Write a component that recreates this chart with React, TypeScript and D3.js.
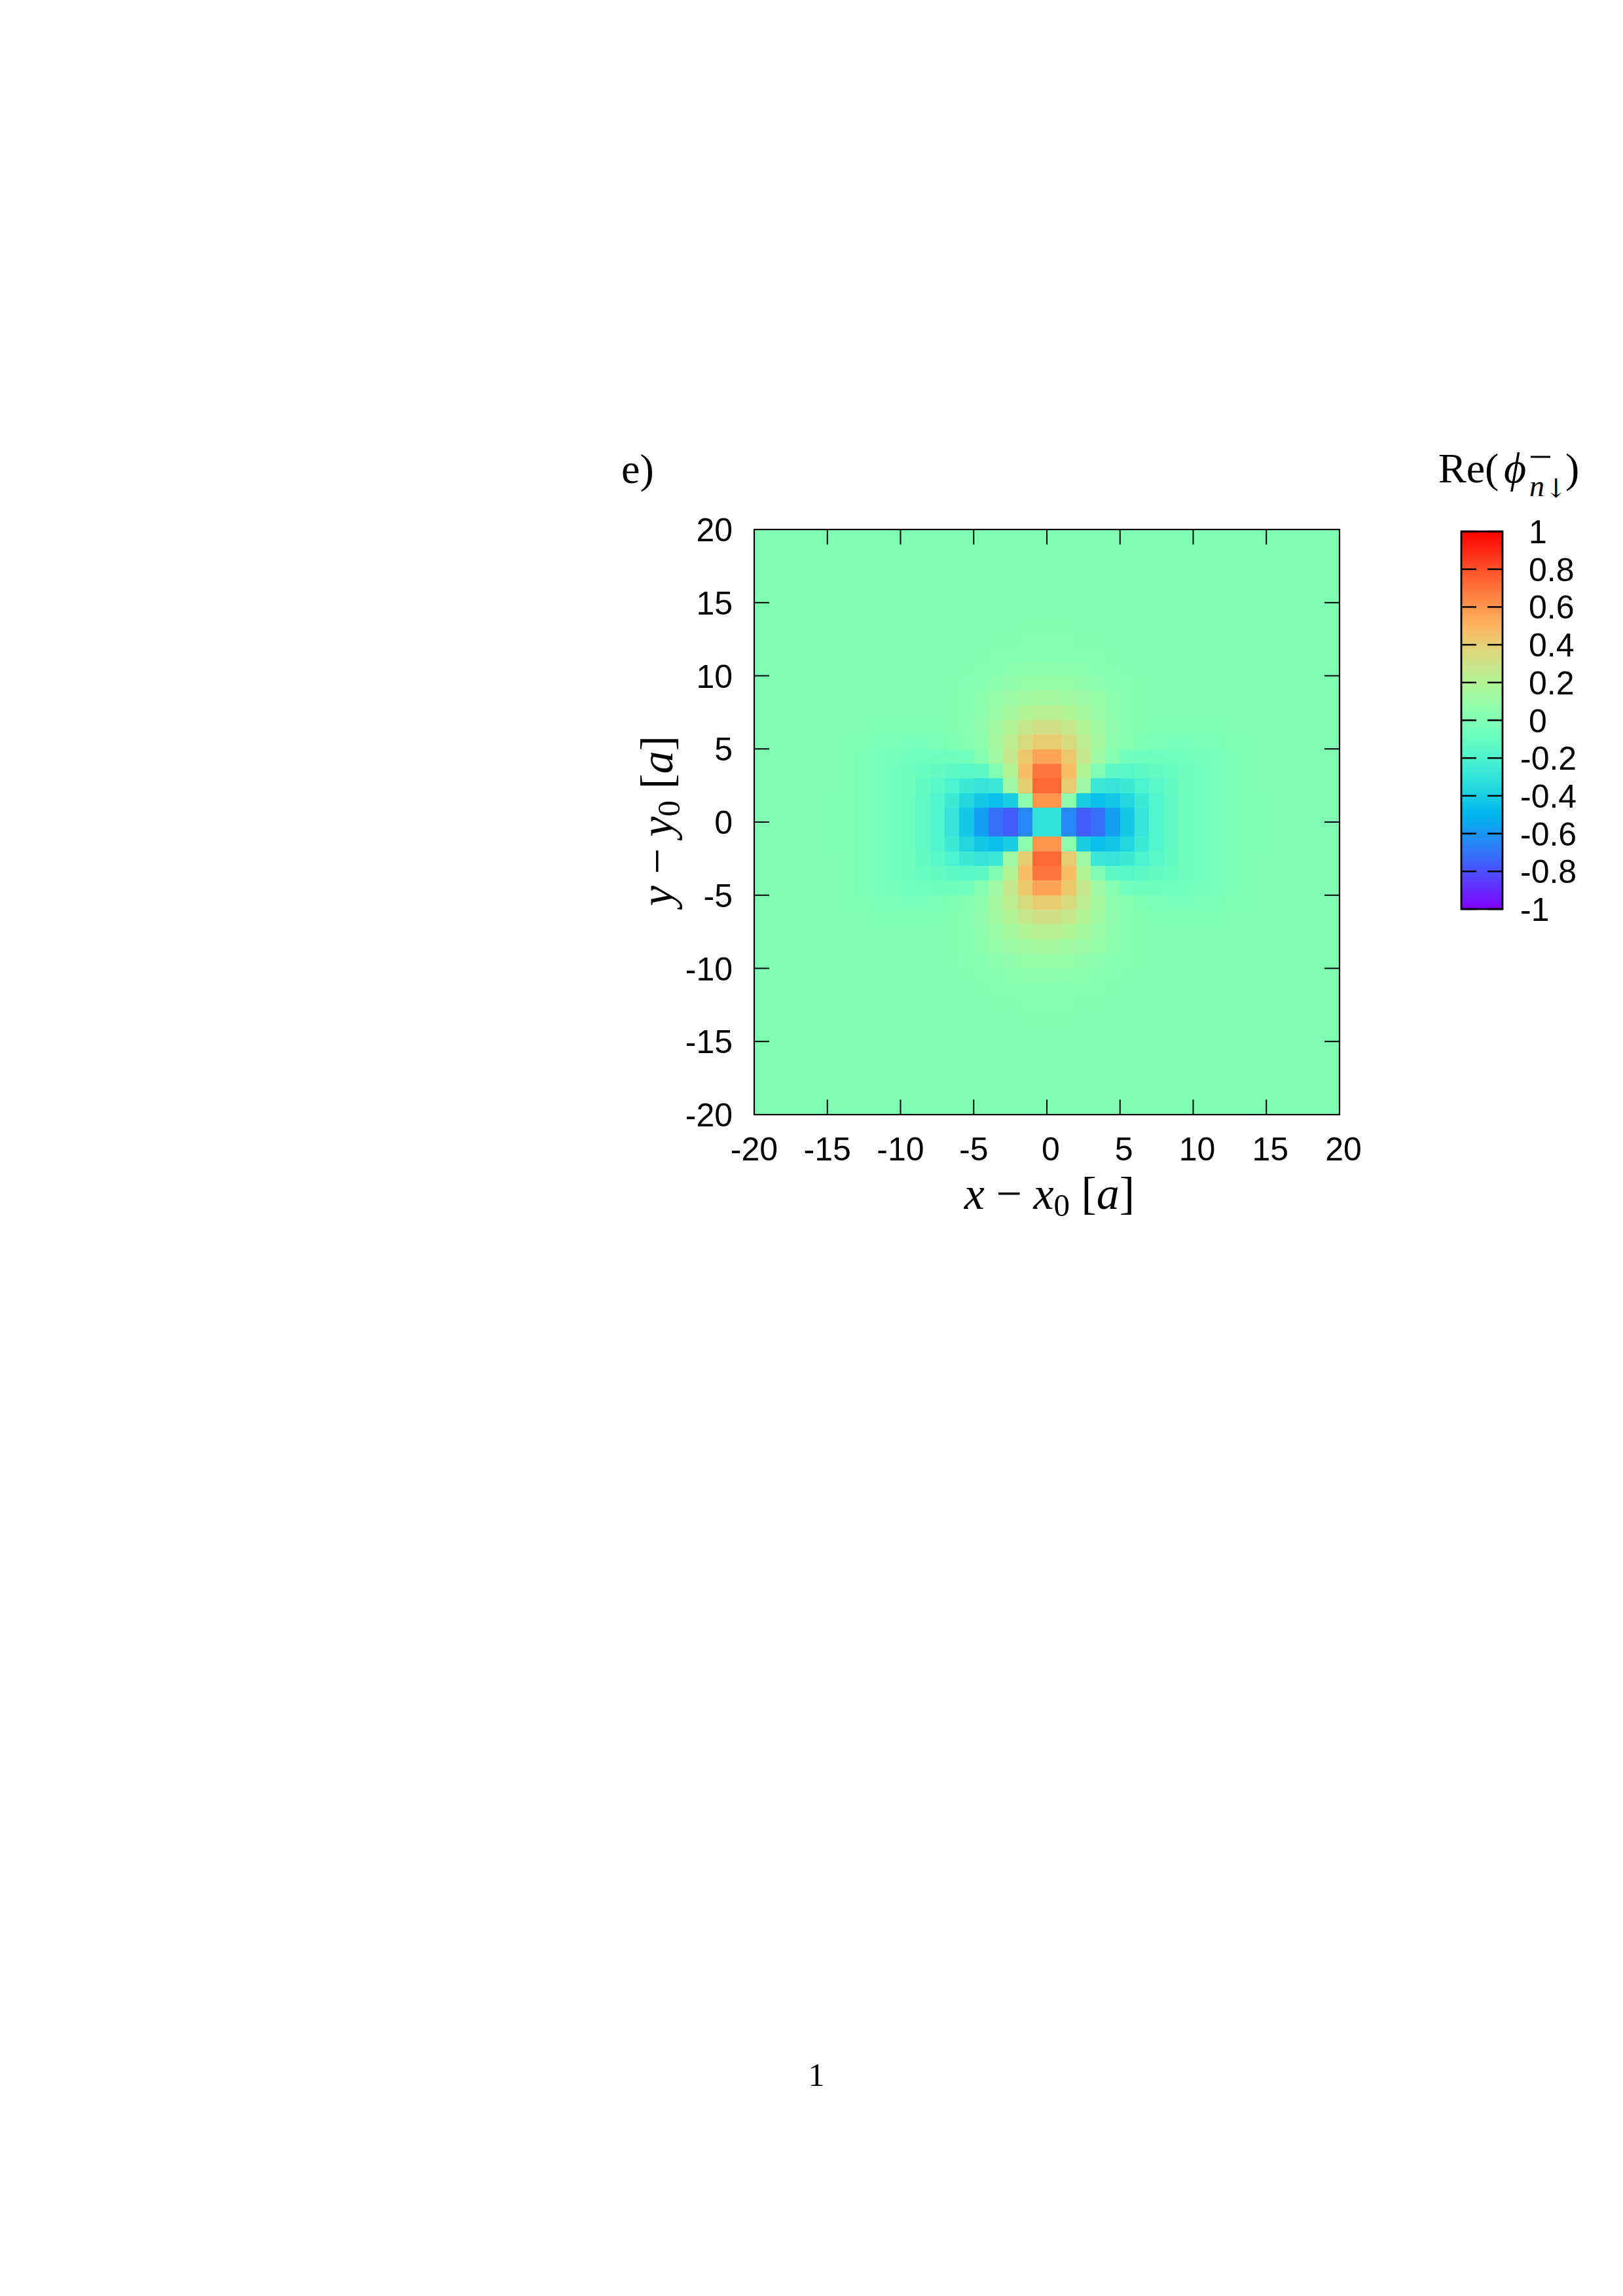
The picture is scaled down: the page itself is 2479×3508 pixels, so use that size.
import React from "react";
import * as d3 from "d3";

// ---- data ----
// One quadrant of the field (x >= 0, y >= 0). Row r = cell y in [r, r+1], column c = cell x in [c, c+1].
// The picture is mirror-symmetric in x and in y.
const quadrantRows: number[][] = [
  [-0.30, -0.64, -0.76, -0.71, -0.57, -0.42, -0.29, -0.18, -0.12, -0.08, -0.05, -0.03, -0.02, -0.01, -0.01, 0, 0, 0, 0, 0],
  [0.60, 0.05, -0.40, -0.46, -0.43, -0.36, -0.26, -0.18, -0.12, -0.08, -0.05, -0.03, -0.02, -0.01, -0.01, 0, 0, 0, 0, 0],
  [0.73, 0.41, 0.12, -0.27, -0.29, -0.26, -0.20, -0.15, -0.11, -0.07, -0.05, -0.03, -0.02, -0.01, 0, 0, 0, 0, 0, 0],
  [0.69, 0.47, 0.19, 0.0, -0.14, -0.15, -0.13, -0.11, -0.09, -0.07, -0.05, -0.03, -0.02, -0.01, 0, 0, 0, 0, 0, 0],
  [0.56, 0.43, 0.27, 0.12, 0.02, -0.05, -0.07, -0.07, -0.06, -0.05, -0.04, -0.03, -0.02, -0.01, 0, 0, 0, 0, 0, 0],
  [0.41, 0.34, 0.24, 0.15, 0.06, 0.02, -0.01, -0.02, -0.03, -0.03, -0.02, -0.02, -0.01, -0.01, 0, 0, 0, 0, 0, 0],
  [0.31, 0.27, 0.20, 0.13, 0.07, 0.03, 0.01, -0.01, -0.01, -0.01, -0.01, -0.01, 0, 0, 0, 0, 0, 0, 0, 0],
  [0.22, 0.19, 0.15, 0.10, 0.06, 0.03, 0.01, 0, 0, 0, 0, 0, 0, 0, 0, 0, 0, 0, 0, 0],
  [0.15, 0.13, 0.11, 0.08, 0.05, 0.03, 0.01, 0, 0, 0, 0, 0, 0, 0, 0, 0, 0, 0, 0, 0],
  [0.09, 0.08, 0.07, 0.05, 0.03, 0.02, 0.01, 0, 0, 0, 0, 0, 0, 0, 0, 0, 0, 0, 0, 0],
  [0.06, 0.05, 0.04, 0.03, 0.02, 0.01, 0, 0, 0, 0, 0, 0, 0, 0, 0, 0, 0, 0, 0, 0],
  [0.03, 0.03, 0.02, 0.02, 0.01, 0, 0, 0, 0, 0, 0, 0, 0, 0, 0, 0, 0, 0, 0, 0],
  [0.02, 0.02, 0.01, 0.01, 0, 0, 0, 0, 0, 0, 0, 0, 0, 0, 0, 0, 0, 0, 0, 0],
  [0.01, 0.01, 0, 0, 0, 0, 0, 0, 0, 0, 0, 0, 0, 0, 0, 0, 0, 0, 0, 0],
  [0, 0, 0, 0, 0, 0, 0, 0, 0, 0, 0, 0, 0, 0, 0, 0, 0, 0, 0, 0],
  [0, 0, 0, 0, 0, 0, 0, 0, 0, 0, 0, 0, 0, 0, 0, 0, 0, 0, 0, 0],
  [0, 0, 0, 0, 0, 0, 0, 0, 0, 0, 0, 0, 0, 0, 0, 0, 0, 0, 0, 0],
  [0, 0, 0, 0, 0, 0, 0, 0, 0, 0, 0, 0, 0, 0, 0, 0, 0, 0, 0, 0],
  [0, 0, 0, 0, 0, 0, 0, 0, 0, 0, 0, 0, 0, 0, 0, 0, 0, 0, 0, 0],
  [0, 0, 0, 0, 0, 0, 0, 0, 0, 0, 0, 0, 0, 0, 0, 0, 0, 0, 0, 0],
];

const xTicks = [-20, -15, -10, -5, 0, 5, 10, 15, 20];
const yTicks = [-20, -15, -10, -5, 0, 5, 10, 15, 20];
const cbTicks = [-1, -0.8, -0.6, -0.4, -0.2, 0, 0.2, 0.4, 0.6, 0.8, 1];
const cbTickLabels = ["-1", "-0.8", "-0.6", "-0.4", "-0.2", "0", "0.2", "0.4", "0.6", "0.8", "1"];
const domainXY: [number, number] = [-20, 20];
const domainZ: [number, number] = [-1, 1];

// gnuplot rgbformulae 33,13,10 (rainbow)
function palette(t: number): string {
  const c = (v: number) => Math.max(0, Math.min(1, v));
  const r = c(Math.abs(2 * t - 0.5));
  const g = c(Math.sin(Math.PI * t));
  const b = c(Math.cos((Math.PI * t) / 2));
  return d3.rgb(r * 255, g * 255, b * 255).formatHex();
}

export default function App() {
  const W = 2479, H = 3508;
  const xs = d3.scaleLinear().domain(domainXY).range([1152, 2046]);
  const ys = d3.scaleLinear().domain(domainXY).range([1703, 809]);
  const zt = d3.scaleLinear().domain(domainZ).range([0, 1]).clamp(true);
  const color = (v: number) => palette(zt(v));

  const cells: { x0: number; y0: number; v: number }[] = [];
  quadrantRows.forEach((row, yi) => {
    row.forEach((v, xi) => {
      for (const sx of [-1, 1]) {
        for (const sy of [-1, 1]) {
          const x0 = sx > 0 ? xi : -xi - 1;
          const y0 = sy > 0 ? yi : -yi - 1;
          cells.push({ x0, y0, v });
        }
      }
    });
  });

  const cbX0 = 2232, cbX1 = 2295;
  const cbY = d3.scaleLinear().domain(domainZ).range([1389, 812]);
  const gradStops = d3.range(0, 101).map((i) => i / 100);

  const tickLen = 23;
  const sans = "'Liberation Sans', Arial, Helvetica, sans-serif";
  const serif = "'Liberation Serif', 'Times New Roman', serif";
  const sym = "'DejaVu Serif', 'DejaVu Sans', serif";

  return (
    <svg
      width={W}
      height={H}
      viewBox={`0 0 ${W} ${H}`}
      style={{ position: "absolute", left: 0, top: 0, background: "#fff" }}
    >
      <defs>
        <linearGradient id="cbgrad" x1="0" y1="1" x2="0" y2="0">
          {gradStops.map((t) => (
            <stop key={t} offset={t} stopColor={palette(t)} />
          ))}
        </linearGradient>
      </defs>
      <rect x={0} y={0} width={W} height={H} fill="#fff" />

      {/* heatmap cells */}
      <g shapeRendering="crispEdges">
        {cells.map((c, i) => (
          <rect
            key={i}
            x={xs(c.x0)}
            y={ys(c.y0 + 1)}
            width={xs(c.x0 + 1) - xs(c.x0) + 0.5}
            height={ys(c.y0) - ys(c.y0 + 1) + 0.5}
            fill={color(c.v)}
          />
        ))}
      </g>

      {/* ticks */}
      <g stroke="#000" strokeWidth={2}>
        {xTicks.map((t) => (
          <g key={"xt" + t}>
            <line x1={xs(t)} x2={xs(t)} y1={ys(-20)} y2={ys(-20) - tickLen} />
            <line x1={xs(t)} x2={xs(t)} y1={ys(20)} y2={ys(20) + tickLen} />
          </g>
        ))}
        {yTicks.map((t) => (
          <g key={"yt" + t}>
            <line x1={xs(-20)} x2={xs(-20) + tickLen} y1={ys(t)} y2={ys(t)} />
            <line x1={xs(20)} x2={xs(20) - tickLen} y1={ys(t)} y2={ys(t)} />
          </g>
        ))}
      </g>
      <rect
        x={xs(-20)}
        y={ys(20)}
        width={xs(20) - xs(-20)}
        height={ys(-20) - ys(20)}
        fill="none"
        stroke="#000"
        strokeWidth={2.2}
      />

      {/* tick labels */}
      <g fontFamily={sans} fontSize={50} fill="#000">
        {xTicks.map((t) => (
          <text key={"xl" + t} x={xs(t) + (t >= 0 ? 6 : 0)} y={1773} textAnchor="middle">
            {String(t)}
          </text>
        ))}
        {yTicks.map((t) => (
          <text key={"yl" + t} x={1119} y={ys(t) + 18} textAnchor="end">
            {String(t)}
          </text>
        ))}
      </g>

      {/* axis labels */}
      <text x={1603} y={1847} textAnchor="middle" fontFamily={serif} fontSize={70} fill="#000">
        <tspan fontStyle="italic">x</tspan>
        <tspan>{" − "}</tspan>
        <tspan fontStyle="italic">x</tspan>
        <tspan fontSize={49} dy={11}>0</tspan>
        <tspan dy={-11}>{" ["}</tspan>
        <tspan fontStyle="italic">a</tspan>
        <tspan>]</tspan>
      </text>
      <text
        transform={`translate(1027,1254) rotate(-90)`}
        textAnchor="middle"
        fontFamily={serif}
        fontSize={70}
        fill="#000"
      >
        <tspan fontStyle="italic">y</tspan>
        <tspan>{" − "}</tspan>
        <tspan fontStyle="italic">y</tspan>
        <tspan fontSize={49} dy={11}>0</tspan>
        <tspan dy={-11}>{" ["}</tspan>
        <tspan fontStyle="italic">a</tspan>
        <tspan>]</tspan>
      </text>

      {/* panel label */}
      <text x={949} y={738} fontFamily={serif} fontSize={64} fill="#000">
        e)
      </text>

      {/* colour box */}
      <rect x={cbX0} y={cbY(1)} width={cbX1 - cbX0} height={cbY(-1) - cbY(1)} fill="url(#cbgrad)" />
      <g stroke="#000" strokeWidth={2.5}>
        {cbTicks.map((t) => (
          <g key={"cbt" + t}>
            <line x1={cbX0} x2={cbX0 + tickLen} y1={cbY(t)} y2={cbY(t)} />
            <line x1={cbX1} x2={cbX1 - tickLen} y1={cbY(t)} y2={cbY(t)} />
          </g>
        ))}
      </g>
      <rect
        x={cbX0}
        y={cbY(1)}
        width={cbX1 - cbX0}
        height={cbY(-1) - cbY(1)}
        fill="none"
        stroke="#000"
        strokeWidth={2.8}
      />
      <g fontFamily={sans} fontSize={50} fill="#000">
        {cbTicks.map((t, i) => (
          <text key={"cbl" + t} x={t < 0 ? 2322 : 2335} y={cbY(t) + 18}>
            {cbTickLabels[i]}
          </text>
        ))}
      </g>

      {/* colour box title */}
      <g fontFamily={serif} fill="#000">
        <text x={2197} y={737} fontSize={64}>Re(</text>
        <text x={2297} y={737} fontSize={66} fontStyle="italic">ϕ</text>
        <line x1={2338} x2={2368} y1={698} y2={698} stroke="#000" strokeWidth={3} />
        <text x={2336} y={758} fontSize={46} fontStyle="italic">n</text>
        <text x={2360} y={760} fontSize={40} fontFamily={sym} fill="#000">↓</text>
        <text x={2391} y={737} fontSize={64}>)</text>
      </g>

      {/* page number */}
      <text x={1247} y={3187} textAnchor="middle" fontFamily={serif} fontSize={50} fill="#000">
        1
      </text>
    </svg>
  );
}
